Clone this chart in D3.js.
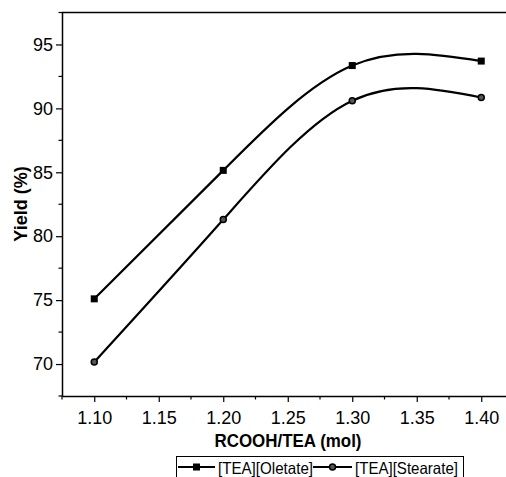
<!DOCTYPE html>
<html>
<head>
<meta charset="utf-8">
<script src="https://cdn.jsdelivr.net/npm/d3@7"></script>
<style>
  body { margin: 0; background: #fff; }
  text { font-family: "Liberation Sans", Arial, sans-serif; fill: #000; }
</style>
</head>
<body>
<div id="chart"></div>
<script>
// data
var ratios = [1.10, 1.20, 1.30, 1.40];
var oleateYield = [75.1, 85.15, 93.35, 93.7];
var stearateYield = [70.15, 81.3, 90.6, 90.85];
var seriesNames = ["[TEA][Oletate]", "[TEA][Stearate]"];
var xTicks = [1.10, 1.15, 1.20, 1.25, 1.30, 1.35, 1.40];
var yTicks = [70, 75, 80, 85, 90, 95];

var svgWidth = 506;
var svgHeight = 477;

var svg = d3.select("#chart")
    .append("svg")
    .attr("width", svgWidth)
    .attr("height", svgHeight);

// scales
var x = d3.scaleLinear()
    .domain([1.075, 1.425])
    .range([62, 513.5]);

var y = d3.scaleLinear()
    .domain([67.5, 97.5])
    .range([396, 12.5]);

// axes
var bottomAxis = d3.axisBottom(x)
    .tickValues(xTicks)
    .tickFormat(d3.format(".2f"))
    .tickSizeInner(6)
    .tickSizeOuter(0)
    .tickPadding(9);

var leftAxis = d3.axisLeft(y)
    .tickValues(yTicks)
    .tickFormat(d3.format("d"))
    .tickSizeInner(6)
    .tickSizeOuter(0)
    .tickPadding(3);

var xAxisG = svg.append("g")
    .attr("transform", "translate(0," + y.range()[0] + ")")
    .call(bottomAxis);

var yAxisG = svg.append("g")
    .attr("transform", "translate(" + x.range()[0] + ",0)")
    .call(leftAxis);

[xAxisG, yAxisG].forEach(function(g) {
    g.select(".domain").attr("stroke", "#000").attr("stroke-width", 1.5);
    g.selectAll(".tick line").attr("stroke", "#000").attr("stroke-width", 1.2);
    g.selectAll(".tick text")
        .style("font-family", "'Liberation Sans', Arial, sans-serif")
        .style("font-size", "18px")
        .attr("fill", "#000");
});

// minor ticks
var xMinor = d3.range(1.075, 1.43, 0.05);
svg.append("g").selectAll("line")
    .data(xMinor)
    .enter()
    .append("line")
    .attr("x1", d => x(d))
    .attr("x2", d => x(d))
    .attr("y1", y.range()[0])
    .attr("y2", y.range()[0] + 3.5)
    .attr("stroke", "#000")
    .attr("stroke-width", 1.2);

var yMinor = d3.range(67.5, 98, 5);
svg.append("g").selectAll("line")
    .data(yMinor)
    .enter()
    .append("line")
    .attr("x1", x.range()[0])
    .attr("x2", x.range()[0] - 3.5)
    .attr("y1", d => y(d))
    .attr("y2", d => y(d))
    .attr("stroke", "#000")
    .attr("stroke-width", 1.2);

// top frame line
svg.append("line")
    .attr("x1", x.range()[0])
    .attr("x2", svgWidth)
    .attr("y1", y.range()[1])
    .attr("y2", y.range()[1])
    .attr("stroke", "#000")
    .attr("stroke-width", 1.5);

// curves
var line = d3.line()
    .x(d => x(d[0]))
    .y(d => y(d[1]))
    .curve(d3.curveNatural);

var oleateData = ratios.map((r, i) => [r, oleateYield[i]]);
var stearateData = ratios.map((r, i) => [r, stearateYield[i]]);

[oleateData, stearateData].forEach(function(data) {
    svg.append("path")
        .datum(data)
        .attr("d", line)
        .attr("fill", "none")
        .attr("stroke", "#000")
        .attr("stroke-width", 2.2);
});

// markers
svg.append("g").selectAll("rect")
    .data(oleateData)
    .enter()
    .append("rect")
    .attr("x", d => x(d[0]) - 3.5)
    .attr("y", d => y(d[1]) - 3.5)
    .attr("width", 7)
    .attr("height", 7)
    .attr("fill", "#000");

svg.append("g").selectAll("circle")
    .data(stearateData)
    .enter()
    .append("circle")
    .attr("cx", d => x(d[0]))
    .attr("cy", d => y(d[1]))
    .attr("r", 3)
    .attr("fill", "#555")
    .attr("stroke", "#000")
    .attr("stroke-width", 1.5);

// axis titles
svg.append("text")
    .attr("x", 288)
    .attr("y", 447)
    .attr("text-anchor", "middle")
    .attr("textLength", 147)
    .attr("lengthAdjust", "spacingAndGlyphs")
    .style("font-size", "18px")
    .style("font-weight", "bold")
    .text("RCOOH/TEA (mol)");

svg.append("text")
    .attr("transform", "translate(27,204) rotate(-90)")
    .attr("text-anchor", "middle")
    .style("font-size", "18px")
    .style("font-weight", "bold")
    .text("Yield (%)");

// legend
var legend = svg.append("g");
legend.append("rect")
    .attr("x", 176.5)
    .attr("y", 456.5)
    .attr("width", 287)
    .attr("height", 30)
    .attr("fill", "none")
    .attr("stroke", "#000")
    .attr("stroke-width", 1);

var legendItems = [
    { name: seriesNames[0], x0: 178, x1: 215, width: 95, marker: "square" },
    { name: seriesNames[1], x0: 313, x1: 352, width: 103, marker: "circle" }
];

legendItems.forEach(function(item) {
    var cy = 467;
    legend.append("line")
        .attr("x1", item.x0)
        .attr("x2", item.x1)
        .attr("y1", cy)
        .attr("y2", cy)
        .attr("stroke", "#000")
        .attr("stroke-width", 2.2);
    var mx = (item.x0 + item.x1) / 2;
    if (item.marker === "square") {
        legend.append("rect")
            .attr("x", mx - 3.5)
            .attr("y", cy - 3.5)
            .attr("width", 7)
            .attr("height", 7)
            .attr("fill", "#000");
    } else {
        legend.append("circle")
            .attr("cx", mx)
            .attr("cy", cy)
            .attr("r", 3)
            .attr("fill", "#555")
            .attr("stroke", "#000")
            .attr("stroke-width", 1.5);
    }
    legend.append("text")
        .attr("x", item.x1 + 3)
        .attr("y", 473.5)
        .attr("textLength", item.width)
        .attr("lengthAdjust", "spacingAndGlyphs")
        .style("font-size", "16.5px")
        .text(item.name);
});
</script>
</body>
</html>
